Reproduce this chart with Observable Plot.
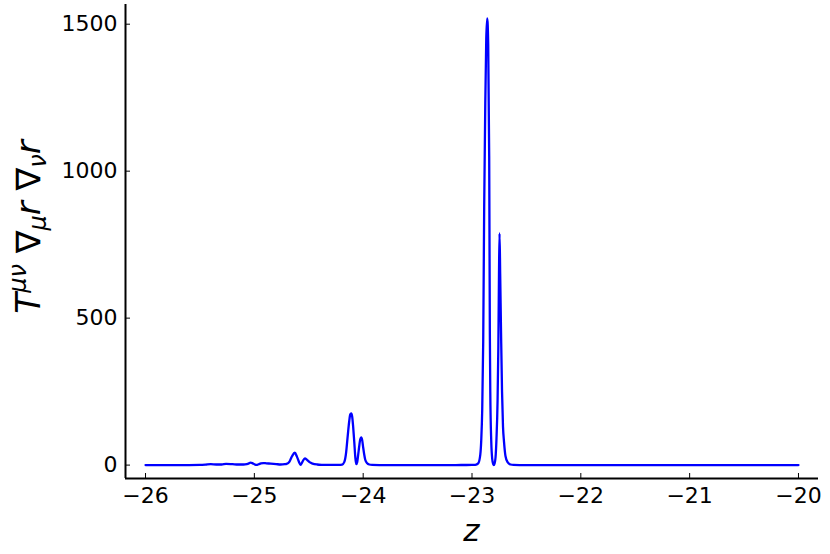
<!DOCTYPE html>
<html>
<head>
<meta charset="utf-8">
<script src="https://cdn.jsdelivr.net/npm/d3@7"></script>
<script src="https://cdn.jsdelivr.net/npm/@observablehq/plot@0.6"></script>
<style>
  html, body { margin: 0; padding: 0; background: #fff; }
  #chart { width: 830px; height: 554px; }
</style>
</head>
<body>
<div id="chart"></div>
<script>
const zValues = [
  -26.0, -25.8, -25.6, -25.5, -25.45, -25.4, -25.35, -25.3, -25.26, -25.2, -25.15, -25.1,
  -25.07, -25.05, -25.035, -25.015, -24.995, -24.98, -24.96, -24.94, -24.918, -24.89,
  -24.85, -24.80, -24.76, -24.72, -24.704, -24.677, -24.654, -24.628, -24.608, -24.589,
  -24.576, -24.557, -24.536, -24.516, -24.493, -24.465, -24.422, -24.374, -24.30, -24.227,
  -24.193, -24.174, -24.156, -24.147, -24.138, -24.128, -24.119, -24.110, -24.101, -24.092,
  -24.082, -24.073, -24.064, -24.055, -24.046, -24.036, -24.027, -24.018, -24.009, -24.000,
  -23.990, -23.981, -23.963, -23.944, -23.917, -23.85, -23.6, -23.3, -23.1, -23.0,
  -22.970, -22.943, -22.924, -22.915, -22.906, -22.897, -22.888, -22.878, -22.869, -22.860,
  -22.851, -22.842, -22.836, -22.832, -22.823, -22.814, -22.805, -22.799,
  -22.793, -22.784, -22.775, -22.765, -22.758, -22.752, -22.747, -22.741, -22.733, -22.724,
  -22.715, -22.706, -22.692, -22.673, -22.646, -22.618, -22.563, -22.4, -22.0, -21.5, -21.0,
  -20.5, -20.0
];
const tValues = [
  0, 0, 0, 0.5, 1.5, 3, 2, 2, 4, 3, 2, 2,
  3.5, 6, 8.5, 6, 2, 0.5, 3, 6, 7, 6,
  5, 3.5, 2, 3, 4, 12, 30, 42, 28, 10,
  1, 12, 23, 18, 10, 5, 2, 1, 0.5, 0.8,
  2, 10, 45, 80, 115, 150, 172, 176, 165, 130,
  80, 30, 3, 10, 35, 65, 88, 94, 85, 60,
  35, 18, 6, 2, 0.5, 0, 0, 0, 0.3, 0.5,
  1, 6, 35, 85, 190, 420, 880, 1230, 1450, 1520,
  1430, 1050, 450, 250, 80, 20, 3, 0,
  5, 25, 90, 220, 400, 650, 788, 650, 450, 250,
  130, 80, 30, 10, 2, 0.5, 0.2, 0, 0, 0, 0,
  0, 0
];
const xTicks = [-26, -25, -24, -23, -22, -21, -20];
const yTicks = [0, 500, 1000, 1500];
const xDomain = [-26.184, -19.816];
const yDomain = [-45.6, 1567];

const data = zValues.map((z, i) => ({z, t: tValues[i]}));

const W = 830, H = 554;
const mL = 125, mR = 12, mT = 4, mB = 76;
const fw = W - mL - mR, fh = H - mT - mB;
const fmt = d3.format("d");

const plot = Plot.plot({
  width: W,
  height: H,
  marginLeft: mL,
  marginRight: mR,
  marginTop: mT,
  marginBottom: mB,
  style: {fontFamily: "DejaVu Sans", fontSize: "22px", color: "#000", background: "#fff"},
  x: {domain: xDomain},
  y: {domain: yDomain},
  marks: [
    Plot.axisX(xTicks, {tickSize: 0, tickPadding: 9, label: null, fontSize: 22, tickFormat: fmt}),
    Plot.axisY(yTicks, {tickSize: 0, tickPadding: 8, label: null, fontSize: 22, tickFormat: fmt}),
    Plot.ruleX(xTicks, {x: d => d, insetTop: fh - 5, stroke: "#000", strokeWidth: 1}),
    Plot.ruleY(yTicks, {y: d => d, insetRight: fw - 5, stroke: "#000", strokeWidth: 1}),
    Plot.line(data, {x: "z", y: "t", stroke: "#0000ff", strokeWidth: 2.3, curve: "monotone-x"}),
    Plot.ruleX([xDomain[0]], {stroke: "#000", strokeWidth: 2}),
    Plot.ruleY([yDomain[0]], {stroke: "#000", strokeWidth: 2})
  ]
});
document.getElementById("chart").appendChild(plot);

const svg = d3.select(plot);
// x label
svg.append("text")
  .attr("x", mL + fw / 2)
  .attr("y", 541)
  .attr("text-anchor", "middle")
  .attr("font-family", "DejaVu Sans")
  .attr("font-style", "italic")
  .attr("font-size", 31)
  .attr("fill", "#000")
  .text("z");

// y label
const yl = svg.append("text")
  .attr("transform", "translate(40,227) rotate(-90)")
  .attr("text-anchor", "middle")
  .attr("font-family", "DejaVu Sans")
  .attr("font-size", 34)
  .attr("fill", "#000");
yl.append("tspan").attr("font-style", "italic").text("T");
yl.append("tspan").attr("font-style", "italic").attr("font-size", 24).attr("dy", -14).text("μν");
yl.append("tspan").attr("dy", 14).text(" ∇");
yl.append("tspan").attr("font-style", "italic").attr("font-size", 24).attr("dy", 6).text("μ");
yl.append("tspan").attr("font-style", "italic").attr("dy", -6).text("r");
yl.append("tspan").text(" ∇");
yl.append("tspan").attr("font-style", "italic").attr("font-size", 24).attr("dy", 6).text("ν");
yl.append("tspan").attr("font-style", "italic").attr("dy", -6).text("r");
</script>
</body>
</html>
